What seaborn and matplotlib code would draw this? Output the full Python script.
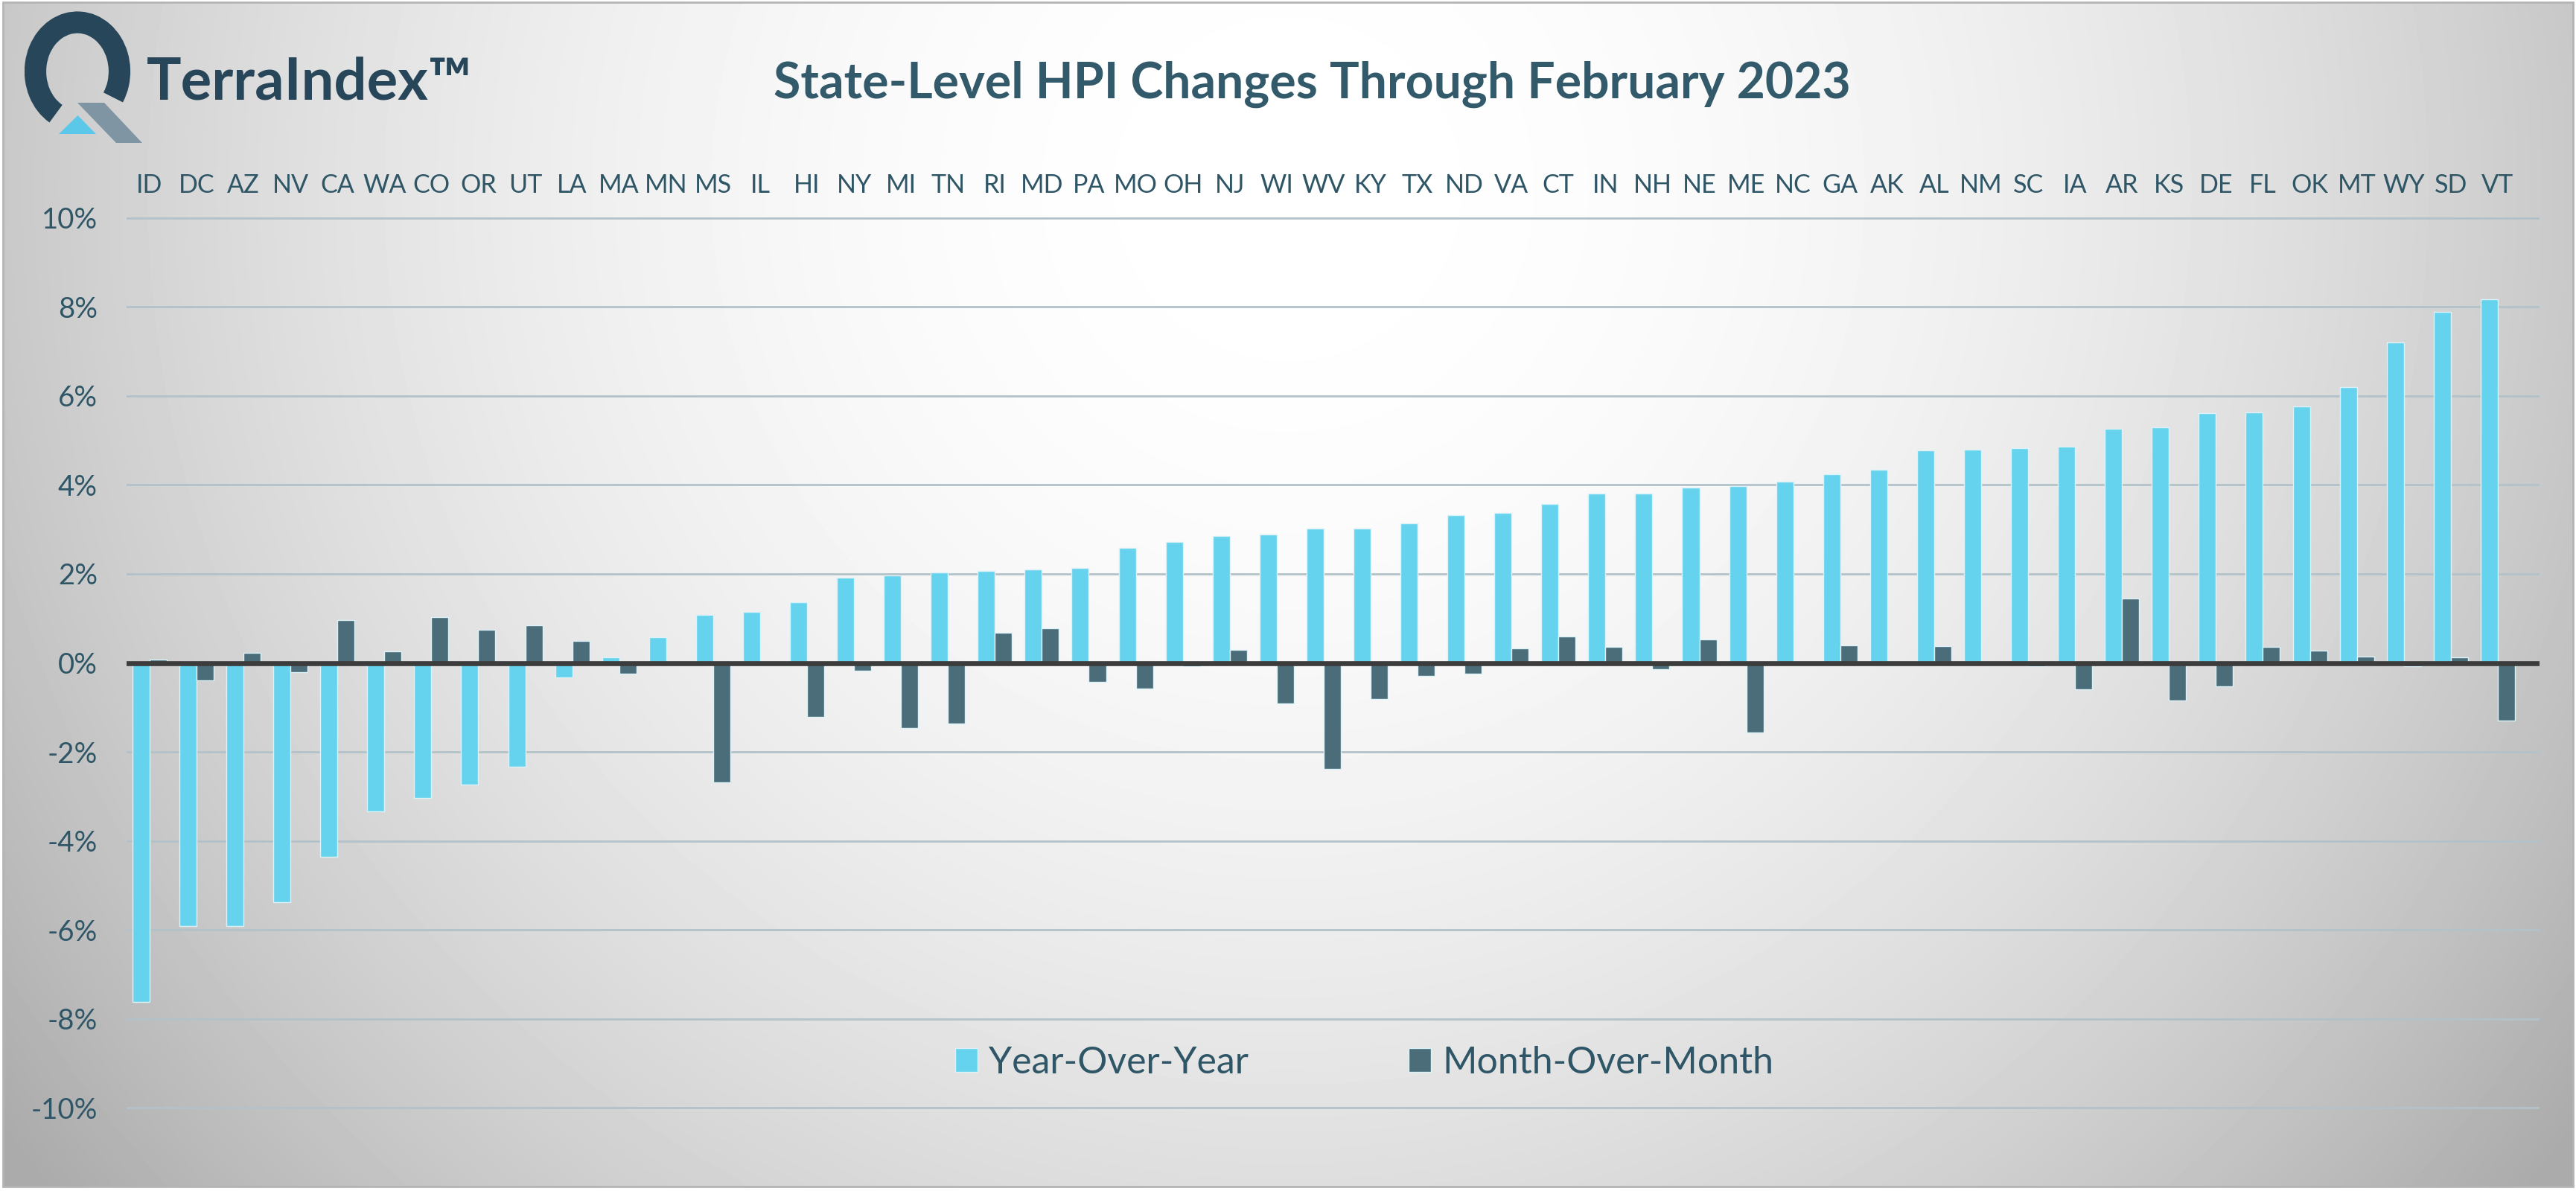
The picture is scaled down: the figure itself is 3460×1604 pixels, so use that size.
import numpy as np
import pandas as pd
import matplotlib
matplotlib.use("Agg")
import matplotlib.pyplot as plt
import seaborn as sns
from matplotlib.patches import Arc, Polygon, Rectangle
from matplotlib.ticker import FixedLocator, FuncFormatter

states = ["ID", "DC", "AZ", "NV", "CA", "WA", "CO", "OR", "UT", "LA", "MA", "MN", "MS",
          "IL", "HI", "NY", "MI", "TN", "RI", "MD", "PA", "MO", "OH", "NJ", "WI", "WV",
          "KY", "TX", "ND", "VA", "CT", "IN", "NH", "NE", "ME", "NC", "GA", "AK", "AL",
          "NM", "SC", "IA", "AR", "KS", "DE", "FL", "OK", "MT", "WY", "SD", "VT"]

yoy = [-7.63, -5.92, -5.91, -5.38, -4.36, -3.34, -3.03, -2.74, -2.33,
       -0.33, 0.12, 0.57, 1.08, 1.15, 1.37, 1.91,
       1.97, 2.04, 2.07, 2.10, 2.13, 2.58, 2.72, 2.85, 2.88, 3.02, 3.02, 3.13,
       3.32, 3.38, 3.58, 3.80, 3.80, 3.94, 3.97,
       4.08, 4.25, 4.35, 4.77, 4.80, 4.83, 4.86, 5.27, 5.30, 5.61, 5.63, 5.76,
       6.20, 7.20, 7.89, 8.17]

mom = [0.08, -0.39, 0.22, -0.21, 0.96, 0.26, 1.03, 0.74, 0.85,
       0.50, -0.25, 0.00, -2.69, 0.00, -1.22, -0.18,
       -1.46, -1.36, 0.68, 0.78, -0.42, -0.58, -0.07, 0.30, -0.91, -2.38, -0.82, -0.29,
       -0.24, 0.33, 0.59, 0.36, -0.14, 0.53, -1.56,
       0.02, 0.40, -0.05, 0.38, 0.01, -0.08, -0.59, 1.45, -0.84, -0.52, 0.36, 0.28,
       0.14, -0.08, 0.12, -1.30]

series_names = ["Year-Over-Year", "Month-Over-Month"]
y_ticks = [-10, -8, -6, -4, -2, 0, 2, 4, 6, 8, 10]
title = "State-Level HPI Changes Through February 2023"
brand = "TerraIndex\u2122"

cyan = "#66d3ee"
slate = "#4a6d79"
text_col = "#2f5666"
logo_col = "#27465a"

sns.set_style("white")
plt.rcParams["font.family"] = ["Lato", "DejaVu Sans"]

W, H, DPI = 3460, 1604, 200
fig = plt.figure(figsize=(W / DPI, H / DPI), dpi=DPI, facecolor="white")

# background with a soft radial gradient and thin frame
bg = fig.add_axes([0, 0, 1, 1])
bg.set_xlim(0, W)
bg.set_ylim(H, 0)
bg.axis("off")
gx, gy = np.meshgrid(np.linspace(0, W, 500), np.linspace(0, H, 240))
r = np.sqrt(((gx - 1730) / 1800) ** 2 + ((gy - 250) / 1800) ** 2)
shade = 1 - 0.23 * np.clip(r, 0, 1.2) ** 2
bg.imshow(shade, cmap="gray", vmin=0, vmax=1, extent=(4, W - 4, 1594, 3),
          interpolation="bilinear", aspect="auto")
bg.add_patch(Rectangle((4, 3), W - 8, 1591, fill=False, edgecolor="#b4b4b4", lw=1.0))

# logo
bg.add_patch(Arc((104, 96), 113, 132, theta1=117, theta2=36, color=logo_col, lw=10.5))
bg.add_patch(Polygon([(104, 138), (140, 138), (191, 192), (156, 192)],
                     closed=True, color="#7f95a3", lw=0))
bg.add_patch(Polygon([(79, 180), (129, 180), (104.5, 155)], closed=True, color="#5bc8ea", lw=0))
bg.text(197, 133, brand, fontsize=28, fontweight="bold", color=logo_col, va="baseline", ha="left")
bg.text(1762, 132, title, fontsize=23.8, fontweight="bold", color="#335a6a",
        va="baseline", ha="center")

# main chart
df = pd.DataFrame({
    "state": states * 2,
    "series": [series_names[0]] * len(states) + [series_names[1]] * len(states),
    "value": yoy + mom,
})

ax = fig.add_axes([170 / W, 1 - 1494 / H, 3241 / W, 1207 / H])
ax.patch.set_alpha(0)
sns.barplot(data=df, x="state", y="value", hue="series", order=states,
            hue_order=series_names, palette=[cyan, slate], width=0.73,
            edgecolor="#dcf2f8", linewidth=0.5, saturation=1, ax=ax, zorder=2)

ax.set_xlim(-0.49, 50.89)
ax.set_ylim(-10.1, 10.1)
ax.yaxis.set_major_locator(FixedLocator(y_ticks))
ax.yaxis.set_major_formatter(FuncFormatter(lambda v, p: f"{int(round(v))}%"))
ax.yaxis.grid(True, color="#b3c2c8", lw=1.0)
ax.set_axisbelow(True)
ax.axhline(0, color="#3c3c3c", lw=2.4, zorder=4)
for s in ax.spines.values():
    s.set_visible(False)

ax.xaxis.tick_top()
ax.set_xlabel("")
ax.set_ylabel("")
ax.tick_params(axis="x", length=0, pad=8, labelsize=12.3, labelcolor=text_col)
ax.tick_params(axis="y", length=0, pad=14, labelsize=13.8, labelcolor=text_col)

handles, labels = ax.get_legend_handles_labels()
ax.legend(handles, labels, loc="center", bbox_to_anchor=(0.513, 0.055), ncol=2,
          frameon=False, fontsize=18, handlelength=0.6, handleheight=0.62,
          handletextpad=0.3, columnspacing=4.3, labelcolor=text_col)

fig.savefig("out.png", dpi=DPI, facecolor="white")
